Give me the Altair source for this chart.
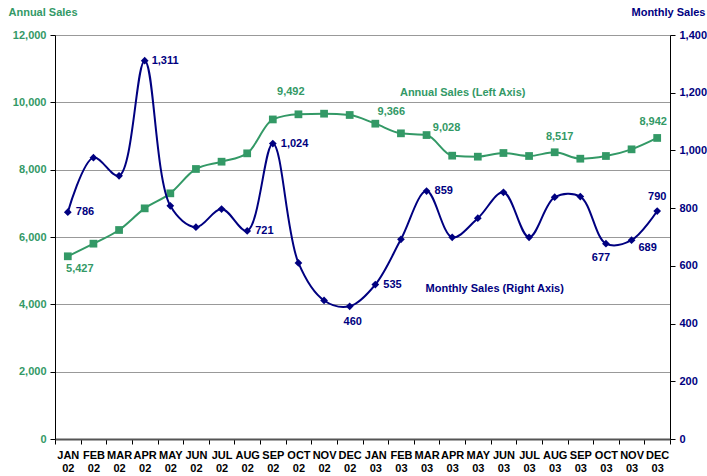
import altair as alt
import pandas as pd

# Sales by month, Jan 2002 - Dec 2003
months = ["JAN", "FEB", "MAR", "APR", "MAY", "JUN", "JUL", "AUG", "SEP", "OCT", "NOV", "DEC"]
years = ["02", "03"]
periods = [f"{m} {y}" for y in years for m in months]

annual_sales = [5427, 5802, 6208, 6851, 7297, 8020, 8237, 8485, 9492, 9644, 9663, 9624,
                9366, 9079, 9028, 8416, 8386, 8495, 8406, 8517, 8326, 8406, 8604, 8942]
monthly_sales = [786, 975, 912, 1311, 808, 734, 797, 721, 1024, 610, 480, 460,
                 535, 692, 859, 699, 765, 855, 699, 838, 840, 677, 689, 790]

# which points carry a value label
annual_labeled = ["JAN 02", "SEP 02", "JAN 03", "MAR 03", "AUG 03", "DEC 03"]
monthly_labeled = ["JAN 02", "APR 02", "AUG 02", "SEP 02", "DEC 02", "JAN 03",
                   "MAR 03", "OCT 03", "NOV 03", "DEC 03"]

GREEN = "#339966"
NAVY = "#000080"
FONT = "Liberation Sans"

annual_df = pd.DataFrame({"period": periods, "value": annual_sales})
monthly_df = pd.DataFrame({"period": periods, "value": monthly_sales})

x_enc = alt.X(
    "period:N",
    sort=periods,
    scale=alt.Scale(type="band", paddingInner=0, paddingOuter=0),
    axis=alt.Axis(
        title=None,
        labelAngle=0,
        labelExpr="datum.value ? split(datum.value, ' ') : ''",
        labelFont=FONT,
        labelFontSize=11,
        labelFontWeight="bold",
        labelColor="black",
        labelLineHeight=13,
        labelPadding=5,
        tickBand="extent",
        tickColor="black",
        tickSize=5,
        domainColor="#555555",
        domainWidth=2,
        grid=False,
    ),
)

y_left = alt.Y(
    "value:Q",
    scale=alt.Scale(domain=[0, 12000], nice=False),
    axis=alt.Axis(
        values=list(range(0, 12001, 2000)),
        format=",.0f",
        labelFont=FONT,
        labelFontSize=11,
        labelFontWeight="bold",
        labelColor=GREEN,
        labelPadding=4,
        tickColor="black",
        tickSize=5,
        domainColor="black",
        grid=True,
        gridColor="#999999",
        title="Annual Sales",
        titleAngle=0,
        titleAlign="left",
        titleBaseline="middle",
        titleX=-47,
        titleY=-23,
        titleFont=FONT,
        titleFontSize=11,
        titleFontWeight="bold",
        titleColor=GREEN,
    ),
)

y_right = alt.Y(
    "value:Q",
    scale=alt.Scale(domain=[0, 1400], nice=False),
    axis=alt.Axis(
        orient="right",
        values=list(range(0, 1401, 200)),
        format=",.0f",
        labelFont=FONT,
        labelFontSize=11,
        labelFontWeight="bold",
        labelColor=NAVY,
        labelPadding=4,
        tickColor="black",
        tickSize=5,
        domainColor="black",
        grid=False,
        title="Monthly Sales",
        titleAngle=0,
        titleAlign="left",
        titleBaseline="middle",
        titleX=-39,
        titleY=-23,
        titleFont=FONT,
        titleFontSize=11,
        titleFontWeight="bold",
        titleColor=NAVY,
    ),
)


def value_label(df, period, color, y_enc, dx, dy, align="center"):
    return alt.Chart(df[df["period"] == period]).mark_text(
        font=FONT, fontSize=11, fontWeight="bold", color=color,
        dx=dx, dy=dy, align=align, baseline="middle",
    ).encode(x=x_enc, y=y_enc, text=alt.Text("value:Q", format=",.0f"))


# label offsets (dx, dy, align) for each labelled point
annual_offsets = {
    "JAN 02": (12, 13, "center"),
    "SEP 02": (18, -27, "center"),
    "JAN 03": (16, -12, "center"),
    "MAR 03": (20, -7, "center"),
    "AUG 03": (5, -15, "center"),
    "DEC 03": (-4, -16, "center"),
}
monthly_offsets = {
    "JAN 02": (8, 0, "left"),
    "APR 02": (7, 0, "left"),
    "AUG 02": (8, 0, "left"),
    "SEP 02": (8, 0, "left"),
    "DEC 02": (3, 16, "center"),
    "JAN 03": (8, 0, "left"),
    "MAR 03": (8, 0, "left"),
    "OCT 03": (-5, 14, "center"),
    "NOV 03": (16, 8, "center"),
    "DEC 03": (0, -14, "center"),
}

annual_line = alt.Chart(annual_df).mark_line(
    color=GREEN, strokeWidth=2, interpolate="monotone"
).encode(x=x_enc, y=y_left)
annual_pts = alt.Chart(annual_df).mark_square(
    color=GREEN, size=60, opacity=1
).encode(x=x_enc, y=y_left)
annual_labels = [
    value_label(annual_df, p, GREEN, y_left, *annual_offsets[p]) for p in annual_labeled
]
annual_note = alt.Chart(
    pd.DataFrame({"period": ["FEB 03"], "value": [10277], "note": ["Annual Sales (Left Axis)"]})
).mark_text(
    font=FONT, fontSize=11, fontWeight="bold", color=GREEN, align="left", baseline="middle", dx=-1
).encode(x=x_enc, y=y_left, text="note:N")

monthly_line = alt.Chart(monthly_df).mark_line(
    color=NAVY, strokeWidth=2, interpolate="catmull-rom"
).encode(x=x_enc, y=y_right)
monthly_pts = alt.Chart(monthly_df).mark_point(
    shape="diamond", filled=True, color=NAVY, size=60, opacity=1
).encode(x=x_enc, y=y_right)
monthly_labels = [
    value_label(monthly_df, p, NAVY, y_right, *monthly_offsets[p]) for p in monthly_labeled
]
monthly_note = alt.Chart(
    pd.DataFrame({"period": ["MAR 03"], "value": [520], "note": ["Monthly Sales (Right Axis)"]})
).mark_text(
    font=FONT, fontSize=11, fontWeight="bold", color=NAVY, align="left", baseline="middle", dx=-1
).encode(x=x_enc, y=y_right, text="note:N")

left = alt.layer(annual_line, annual_pts, *annual_labels, annual_note)
right = alt.layer(monthly_line, monthly_pts, *monthly_labels, monthly_note)

chart = (
    alt.layer(left, right)
    .resolve_scale(y="independent")
    .properties(
        width=615,
        height=404,
        autosize=alt.AutoSizeParams(type="none"),
        padding={"left": 55, "top": 35, "right": 37, "bottom": 37},
        background="white",
    )
    .configure_view(stroke=None)
)

chart.save("out.html", embed_options={"renderer": "svg", "actions": False})
